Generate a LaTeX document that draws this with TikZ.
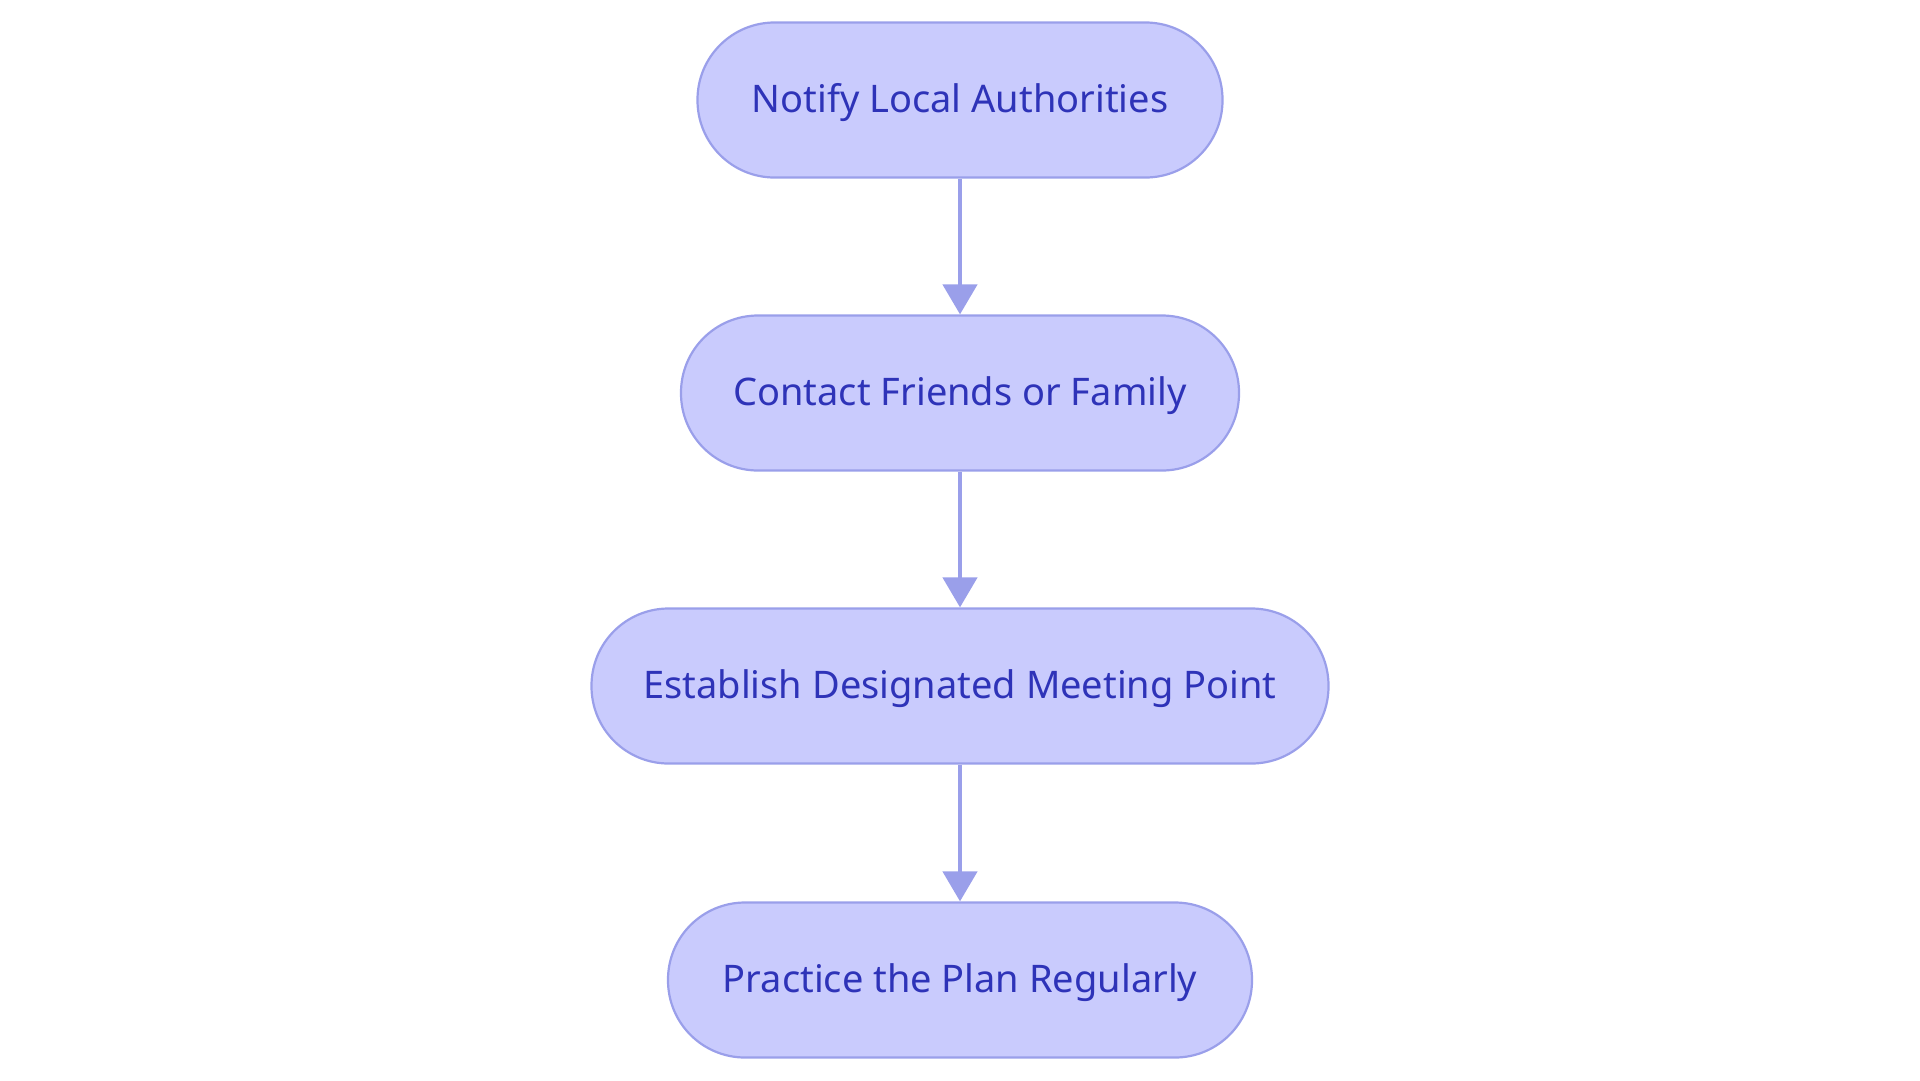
\documentclass[tikz,border=0pt]{standalone}
\usepackage{fontspec}
\setmainfont{Noto Sans}
\usetikzlibrary{arrows.meta}
\definecolor{nodefill}{HTML}{C9CBFD}
\definecolor{nodeborder}{HTML}{9A9FEA}
\definecolor{nodetext}{HTML}{2E33B8}
\definecolor{arrowcol}{HTML}{9A9FEA}
\newcommand{\pilltext}[1]{\raisebox{-12pt}[0pt][0pt]{#1}}
\tikzset{
  pill/.style={draw=nodeborder, fill=nodefill, line width=2.2pt, rounded corners=77pt,
    minimum height=155pt, inner sep=0pt, text=nodetext,
    font=\fontsize{38pt}{46pt}\selectfont},
  flow/.style={draw=arrowcol, line width=4.5pt, -{Triangle[width=34pt,length=30pt]}}
}
\begin{document}
\begin{tikzpicture}[x=1pt,y=-1pt]
\useasboundingbox (0,0) rectangle (1920,1080);
\node[pill, minimum width=525pt] (n1) at (960,100) {\pilltext{Notify Local Authorities}};
\node[pill, minimum width=558pt] (n2) at (960,393) {\pilltext{Contact Friends or Family}};
\node[pill, minimum width=737pt] (n3) at (960,686) {\pilltext{Establish Designated Meeting Point}};
\node[pill, minimum width=584pt] (n4) at (960,980) {\pilltext{Practice the Plan Regularly}};
\draw[flow] (n1) -- (n2);
\draw[flow] (n2) -- (n3);
\draw[flow] (n3) -- (n4);
\end{tikzpicture}
\end{document}
